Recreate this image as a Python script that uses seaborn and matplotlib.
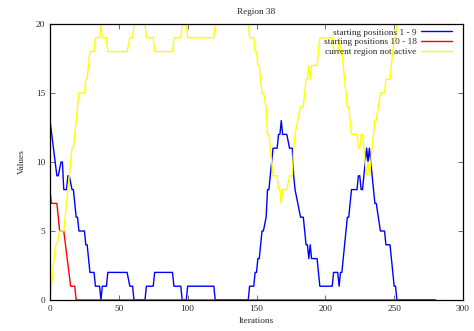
import matplotlib
matplotlib.use("Agg")
import matplotlib.pyplot as plt
import seaborn as sns
import pandas as pd

# ---- data (breakpoints) ----
blue_x = [0, 5, 6, 8, 9, 10, 12, 13, 14, 16, 17, 19, 20, 21, 25, 26, 27, 29, 32, 33, 36, 37, 38, 41, 42,
          56, 58, 60, 61, 69, 70, 75, 76, 89, 90, 95, 96, 99, 100, 119, 120, 144, 145, 148, 149, 150, 151,
          152, 154, 155, 157, 158, 159, 162, 165, 166, 167, 168, 169, 172, 174, 176, 177, 178, 182, 184,
          186, 187, 188, 189, 190, 194, 195, 196, 205, 206, 209, 210, 211, 212, 216, 217, 219, 223, 224,
          225, 226, 227, 229, 230, 231, 232, 233, 235, 236, 237, 240, 243, 244, 247, 250, 251, 252, 280]
blue_y = [13, 9, 9, 10, 10, 8, 8, 9, 9, 8, 8, 6, 6, 5, 5, 4, 4, 2, 2, 1, 1, 0, 1, 1, 2,
          2, 1, 1, 0, 0, 1, 1, 2, 2, 1, 1, 0, 0, 1, 1, 0, 0, 1, 1, 2, 2, 3,
          3, 5, 5, 6, 8, 8, 11, 11, 12, 12, 13, 12, 12, 11, 11, 9, 8, 6, 6,
          4, 4, 3, 4, 3, 3, 2, 1, 1, 2, 2, 1, 2, 2, 6, 6, 8, 8, 9,
          9, 8, 8, 10, 11, 10, 11, 10, 8, 7, 7, 5, 5, 4, 4, 1, 1, 0, 0]

red_x = [0, 1, 5, 7, 10, 15, 18, 19, 280]
red_y = [8, 7, 7, 5, 5, 1, 1, 0, 0]

yellow_x = [0, 4, 5, 7, 10, 16, 17, 21, 25, 26, 27, 29, 32, 33, 36, 37, 38, 41, 42,
            56, 58, 60, 61, 69, 70, 75, 76, 89, 90, 95, 96, 99, 100, 119, 120, 144, 145, 148, 149, 150, 151,
            152, 154, 155, 157, 158, 159, 162, 165, 166, 167, 168, 169, 172, 174, 176, 177, 178, 182, 184,
            186, 187, 188, 189, 190, 194, 195, 196, 205, 206, 209, 210, 211, 212, 216, 217, 219, 223, 224,
            225, 226, 227, 229, 230, 231, 232, 233, 235, 236, 237, 240, 243, 244, 247, 250, 251, 252, 280]
yellow_y = [0, 4, 4, 5, 5, 11, 11, 15, 15, 16, 16, 18, 18, 19, 19, 20, 19, 19, 18,
            18, 19, 19, 20, 20, 19, 19, 18, 18, 19, 19, 20, 20, 19, 19, 20, 20, 19, 19, 18, 18, 17,
            17, 15, 15, 14, 12, 12, 9, 9, 8, 8, 7, 8, 8, 9, 9, 11, 12, 14, 14,
            16, 16, 17, 16, 17, 17, 18, 19, 19, 18, 18, 19, 18, 18, 14, 14, 12, 12, 11,
            11, 12, 12, 10, 9, 10, 9, 10, 12, 13, 13, 15, 15, 16, 16, 19, 19, 20, 20]

labels = ["starting positions 1 - 9", "starting positions 10 - 18", "current region not active"]
colors = ["#0000ff", "#ff0000", "#ffff00"]
x_ticks = [0, 50, 100, 150, 200, 250, 300]
y_ticks = [0, 5, 10, 15, 20]

sns.set_style("ticks")
plt.rcParams["font.family"] = ["Liberation Serif", "DejaVu Serif"]
fs = 6.7

W, H = 474, 331
fig = plt.figure(figsize=(W / 100, H / 100), dpi=100)
ax = fig.add_axes([50 / W, 31 / H, 413 / W, 276 / H])

series = [(blue_x, blue_y), (red_x, red_y), (yellow_x, yellow_y)]
for (xs, ys), lab, col in zip(series, labels, colors):
    df = pd.DataFrame({"Iterations": xs, "Values": ys})
    sns.lineplot(data=df, x="Iterations", y="Values", ax=ax, color=col, label=lab,
                 lw=1.0, estimator=None, sort=False)

ax.set_xlim(0, 300)
ax.set_ylim(0, 20)
ax.set_xticks(x_ticks)
ax.set_yticks(y_ticks)
ax.tick_params(direction="in", length=3.5, width=0.6, labelsize=fs, pad=3.5,
               top=True, right=True, color="#555555")
for s in ax.spines.values():
    s.set_linewidth(0.9)
    s.set_color("black")
ax.set_xlabel("Iterations", fontsize=fs, labelpad=3)
ax.set_ylabel("Values", fontsize=fs, labelpad=7)
ax.set_title("Region 38", fontsize=fs, pad=7)

leg = ax.legend(loc="upper right", bbox_to_anchor=(452 / W, 1 - 28 / H),
                bbox_transform=fig.transFigure, frameon=False, fontsize=fs,
                markerfirst=False, handlelength=3.3, handletextpad=0.5,
                labelspacing=0.12, borderpad=0, borderaxespad=0)
for t in leg.get_texts():
    t.set_ha("right")

fig.savefig("out.png", dpi=100)
